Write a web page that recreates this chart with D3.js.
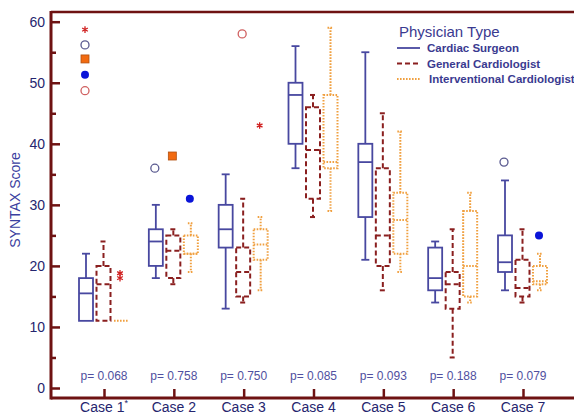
<!DOCTYPE html>
<html>
<head>
<meta charset="utf-8">
<script src="https://cdn.jsdelivr.net/npm/d3@7"></script>
<style>
  body { margin: 0; background: #fff; }
  svg text { font-family: "Liberation Sans", Arial, sans-serif; }
</style>
</head>
<body>
<div id="chart"></div>
<script>
// categories and labels
const cases = ["Case 1", "Case 2", "Case 3", "Case 4", "Case 5", "Case 6", "Case 7"];
const pValues = ["0.068", "0.758", "0.750", "0.085", "0.093", "0.188", "0.079"];
const types = ["Cardiac Surgeon", "General Cardiologist", "Interventional Cardiologist"];
const yTicks = [0, 10, 20, 30, 40, 50, 60];

// [whisker low, q1, median, q3, whisker high] per case
const surgeon = [[11, 11, 15.5, 18, 22], [18, 20, 24, 26, 30], [13, 23, 26, 30, 35], [36, 40, 48, 50, 56],
  [21, 28, 37, 40, 55], [14, 16, 18, 23, 24], [16, 19, 20.6, 25, 34]];
const general = [[11, 11, 17, 20, 24], [17, 18, 22.5, 25, 26], [14, 15, 19, 23, 31], [28, 31, 39, 46, 48],
  [16, 20, 25, 36, 45], [5, 13, 17, 19, 26], [14, 15, 16.4, 21, 26]];
const interventional = [[11, 11, 11, 11, 11], [19, 22, 22, 25, 27], [16, 21, 23.5, 26, 28], [29, 36, 37, 48, 59],
  [19, 22, 27.5, 32, 42], [14, 15, 20, 29, 32], [16, 17, 17.5, 20, 22]];

// outliers: case index, slot (type position), value, marker kind
const outliers = [
  [0, 0, 58.7, "star"], [0, 0, 56.2, "openBlue"], [0, 0, 53.9, "square"], [0, 0, 51.3, "dot"], [0, 0, 48.7, "openRed"],
  [0, 2, 18.8, "star"], [0, 2, 18.0, "star"],
  [1, 0, 36, "openBlue"], [1, 1, 38, "square"], [1, 2, 31, "dot"],
  [2, 1, 58, "openRed"], [2, 2, 43, "star"],
  [6, 0, 37, "openBlue"], [6, 2, 25, "dot"]
];

const W = 574, H = 415;
const colors = ["#4848a0", "#8a1f1f", "#f0a040"];
const dashes = [null, "5,3", "1.6,1.4"];
const axisColor = "#6e1212";
const textColor = "#25256e";

const svg = d3.select("#chart").append("svg").attr("width", W).attr("height", H);

const y = d3.scaleLinear().domain([0, 60]).range([388, 21.7]);
const x = d3.scalePoint().domain(cases).range([104, 523]);
const slot = d3.scalePoint().domain(d3.range(3)).range([-18, 17]);
const boxW = 14;

// frame lines
svg.append("line").attr("x1", 51).attr("x2", W).attr("y1", 12).attr("y2", 12)
  .attr("stroke", axisColor).attr("stroke-width", 2.5);
svg.append("line").attr("x1", 51).attr("x2", W).attr("y1", 398).attr("y2", 398)
  .attr("stroke", axisColor).attr("stroke-width", 3);
svg.append("line").attr("x1", 51).attr("x2", 51).attr("y1", 11).attr("y2", 399.5)
  .attr("stroke", axisColor).attr("stroke-width", 3);

// y axis
svg.append("g")
  .attr("transform", "translate(51,0)")
  .call(d3.axisRight(y).tickValues(d3.range(0, 61, 5)).tickSize(0).tickFormat(""))
  .call(g => g.select(".domain").remove())
  .call(g => g.selectAll(".tick line")
    .attr("x2", d => d % 10 === 0 ? 9 : 5)
    .attr("stroke", axisColor).attr("stroke-width", 2.5));
svg.append("g").selectAll("text").data(yTicks).join("text")
  .attr("x", 45).attr("y", d => y(d)).attr("dy", "0.35em")
  .attr("text-anchor", "end").attr("font-size", 14).attr("fill", textColor)
  .text(d => d);

// x axis
svg.append("g")
  .attr("transform", "translate(0,398)")
  .call(d3.axisTop(x).tickSize(9).tickFormat(""))
  .call(g => g.select(".domain").remove())
  .call(g => g.selectAll(".tick line").attr("stroke", axisColor).attr("stroke-width", 2.5));
const caseLabels = svg.append("g").selectAll("text").data(cases).join("text")
  .attr("x", d => x(d)).attr("y", 412).attr("text-anchor", "middle")
  .attr("font-size", 14).attr("fill", textColor);
caseLabels.append("tspan").text(d => d);
caseLabels.filter((d, i) => i === 0).append("tspan")
  .attr("font-size", 9).attr("dy", -6).text("*");

// p-values
svg.append("g").selectAll("text").data(cases).join("text")
  .attr("x", d => x(d)).attr("y", 380).attr("text-anchor", "middle")
  .attr("font-size", 12).attr("fill", "#5050a0")
  .text((d, i) => "p= " + pValues[i]);

// y label
svg.append("text")
  .attr("transform", "translate(20,200) rotate(-90)")
  .attr("text-anchor", "middle").attr("font-size", 14).attr("fill", "#3a40a0")
  .text("SYNTAX Score");

// boxes
[surgeon, general, interventional].forEach((series, t) => {
  const g = svg.append("g")
    .attr("stroke", colors[t]).attr("fill", "none")
    .attr("stroke-width", t === 0 ? 1.8 : 2)
    .attr("stroke-dasharray", dashes[t]);
  const capW = t === 0 ? 8 : 6;
  series.forEach((s, i) => {
    const cx = x(cases[i]) + slot(t);
    const [lo, q1, med, q3, hi] = s;
    if (hi > q3) {
      g.append("line").attr("x1", cx).attr("x2", cx).attr("y1", y(q3)).attr("y2", y(hi));
      g.append("line").attr("x1", cx - capW / 2).attr("x2", cx + capW / 2).attr("y1", y(hi)).attr("y2", y(hi))
        .attr("stroke-dasharray", null);
    }
    if (lo < q1) {
      g.append("line").attr("x1", cx).attr("x2", cx).attr("y1", y(q1)).attr("y2", y(lo));
      g.append("line").attr("x1", cx - capW / 2).attr("x2", cx + capW / 2).attr("y1", y(lo)).attr("y2", y(lo))
        .attr("stroke-dasharray", null);
    }
    if (q3 > q1) {
      g.append("rect").attr("x", cx - boxW / 2).attr("y", y(q3))
        .attr("width", boxW).attr("height", y(q1) - y(q3));
    }
    g.append("line").attr("x1", cx - boxW / 2).attr("x2", cx + boxW / 2)
      .attr("y1", y(med)).attr("y2", y(med));
  });
});

// outlier markers
const og = svg.append("g");
outliers.forEach(([ci, s, v, kind]) => {
  const cx = x(cases[ci]) + slot(s) - 1, cy = y(v);
  if (kind === "openBlue" || kind === "openRed") {
    og.append("circle").attr("cx", cx).attr("cy", cy).attr("r", 4)
      .attr("fill", "none").attr("stroke", kind === "openBlue" ? "#5a5a90" : "#d06060").attr("stroke-width", 1.3);
  } else if (kind === "dot") {
    og.append("circle").attr("cx", cx).attr("cy", cy).attr("r", 4).attr("fill", "#0a14d8");
  } else if (kind === "square") {
    og.append("rect").attr("x", cx - 4).attr("y", cy - 4).attr("width", 8).attr("height", 8)
      .attr("fill", "#f26a10").attr("stroke", "#b05010").attr("stroke-width", 0.8);
  } else {
    og.append("path").attr("transform", `translate(${cx},${cy})`)
      .attr("d", d3.symbol(d3.symbolAsterisk, 30)())
      .attr("stroke", "#d02020").attr("stroke-width", 1.3).attr("fill", "none");
  }
});

// legend
const lg = svg.append("g").attr("transform", "translate(399,0)");
lg.append("text").attr("x", 0).attr("y", 37).attr("font-size", 15).attr("fill", "#3a3a90")
  .text("Physician Type");
types.forEach((t, i) => {
  const ly = 48 + i * 15.5;
  lg.append("line").attr("x1", -2).attr("x2", 21).attr("y1", ly).attr("y2", ly)
    .attr("stroke", colors[i]).attr("stroke-width", i === 0 ? 1.8 : 2)
    .attr("stroke-dasharray", dashes[i]);
  lg.append("text").attr("x", i === 2 ? 30 : 28).attr("y", ly).attr("dy", "0.35em")
    .attr("font-size", 11.5).attr("font-weight", "bold").attr("fill", "#3a3a90")
    .text(t);
});
</script>
</body>
</html>
